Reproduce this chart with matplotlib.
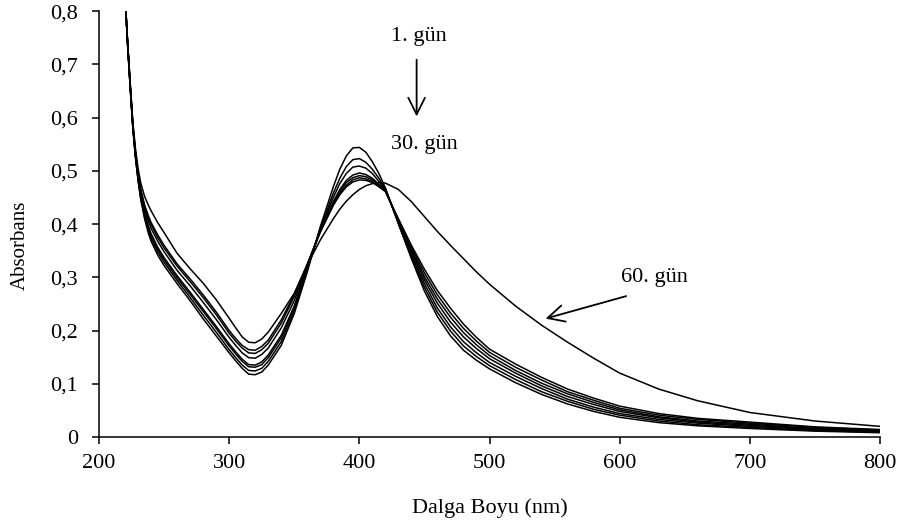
import numpy as np
import matplotlib.pyplot as plt
from matplotlib.ticker import FuncFormatter, MultipleLocator

plt.rcParams['font.family'] = ['Liberation Serif', 'DejaVu Serif']

# wavelength grid (nm)
wl = [220, 222, 224, 226, 228, 230, 232, 235, 238, 240, 245, 250, 260, 270, 280, 290, 300, 305, 310, 315,
      320, 325, 330, 340, 350, 360, 370, 380, 385, 390, 395, 400, 405, 410, 415,
      420, 430, 440, 450, 460, 470, 480, 490, 500, 520, 540, 560, 580, 600, 630,
      660, 700, 750, 800]

day_a = [0.83, 0.735, 0.655, 0.58, 0.525, 0.482, 0.447, 0.41, 0.382, 0.368, 0.342, 0.322,
         0.288, 0.256, 0.222, 0.19, 0.158, 0.143, 0.129, 0.118,
         0.117, 0.122, 0.135, 0.172, 0.232, 0.31, 0.395, 0.47, 0.503, 0.528, 0.543, 0.544, 0.535, 0.517, 0.495,
         0.468, 0.40, 0.335, 0.274, 0.226, 0.19, 0.163, 0.144, 0.128, 0.102, 0.08, 0.062, 0.048, 0.037, 0.027,
         0.021, 0.016, 0.011, 0.008]
day_b = [0.83, 0.736, 0.656, 0.581, 0.527, 0.484, 0.45, 0.414, 0.387, 0.373, 0.348, 0.328,
         0.294, 0.262, 0.229, 0.197, 0.164, 0.149, 0.135, 0.125,
         0.124, 0.129, 0.142, 0.179, 0.237, 0.315, 0.392, 0.458, 0.486, 0.508, 0.521, 0.523, 0.516, 0.503, 0.486,
         0.466, 0.402, 0.339, 0.281, 0.234, 0.199, 0.171, 0.151, 0.134, 0.108, 0.085, 0.067, 0.052, 0.041, 0.030,
         0.023, 0.018, 0.012, 0.009]
day_c = [0.83, 0.737, 0.657, 0.582, 0.528, 0.486, 0.453, 0.418, 0.392, 0.378, 0.353, 0.333,
         0.299, 0.268, 0.236, 0.204, 0.171, 0.156, 0.142, 0.132,
         0.131, 0.136, 0.149, 0.186, 0.243, 0.319, 0.389, 0.45, 0.476, 0.495, 0.507, 0.509, 0.505, 0.495, 0.48,
         0.465, 0.403, 0.343, 0.288, 0.242, 0.207, 0.179, 0.158, 0.14, 0.114, 0.091, 0.071, 0.056, 0.044, 0.033,
         0.026, 0.02, 0.014, 0.01]
day_d = [0.83, 0.737, 0.658, 0.583, 0.529, 0.487, 0.455, 0.421, 0.396, 0.382, 0.357, 0.337,
         0.303, 0.272, 0.24, 0.208, 0.175, 0.16, 0.146, 0.136,
         0.135, 0.141, 0.154, 0.191, 0.246, 0.322, 0.387, 0.442, 0.465, 0.482, 0.492, 0.496, 0.493, 0.486, 0.475,
         0.464, 0.405, 0.348, 0.295, 0.251, 0.216, 0.188, 0.166, 0.147, 0.12, 0.096, 0.076, 0.061, 0.048, 0.036,
         0.028, 0.022, 0.015, 0.011]
day_e = [0.83, 0.738, 0.659, 0.585, 0.532, 0.491, 0.46, 0.428, 0.405, 0.392, 0.368, 0.348,
         0.313, 0.284, 0.253, 0.221, 0.187, 0.172, 0.158, 0.149,
         0.148, 0.155, 0.167, 0.205, 0.256, 0.323, 0.386, 0.44, 0.461, 0.478, 0.487, 0.491, 0.489, 0.483, 0.473,
         0.463, 0.407, 0.352, 0.301, 0.259, 0.225, 0.196, 0.173, 0.153, 0.125, 0.101, 0.081, 0.065, 0.051, 0.038,
         0.03, 0.024, 0.016, 0.012]
day_f = [0.83, 0.739, 0.66, 0.586, 0.534, 0.494, 0.464, 0.433, 0.411, 0.399, 0.375, 0.355,
         0.321, 0.292, 0.262, 0.23, 0.195, 0.18, 0.167, 0.158,
         0.157, 0.164, 0.176, 0.214, 0.264, 0.324, 0.386, 0.437, 0.458, 0.473, 0.483, 0.487, 0.485, 0.48, 0.471,
         0.462, 0.408, 0.356, 0.308, 0.267, 0.233, 0.204, 0.18, 0.159, 0.131, 0.107, 0.085, 0.069, 0.054, 0.041,
         0.033, 0.026, 0.018, 0.013]
day_30 = [0.83, 0.74, 0.661, 0.587, 0.535, 0.496, 0.466, 0.436, 0.415, 0.403, 0.38, 0.36,
          0.325, 0.297, 0.267, 0.235, 0.2, 0.185, 0.172, 0.164,
          0.163, 0.17, 0.182, 0.22, 0.268, 0.325, 0.385, 0.435, 0.455, 0.47, 0.479, 0.483, 0.482, 0.478, 0.47,
          0.461, 0.41, 0.36, 0.315, 0.275, 0.242, 0.212, 0.187, 0.165, 0.137, 0.112, 0.09, 0.073, 0.058, 0.044,
          0.035, 0.028, 0.019, 0.014]
day_60 = [0.83, 0.742, 0.664, 0.592, 0.542, 0.505, 0.478, 0.452, 0.435, 0.425, 0.403, 0.384,
          0.345, 0.316, 0.289, 0.258, 0.223, 0.205, 0.188, 0.178,
          0.177, 0.184, 0.197, 0.232, 0.27, 0.323, 0.37, 0.41, 0.428, 0.443, 0.455, 0.465, 0.472, 0.476, 0.478,
          0.477, 0.465, 0.442, 0.414, 0.386, 0.36, 0.335, 0.31, 0.287, 0.246, 0.21, 0.178, 0.148, 0.12, 0.09,
          0.068, 0.046, 0.03, 0.02]

spectra = [day_a, day_b, day_c, day_d, day_e, day_f, day_30, day_60]

fig = plt.figure(figsize=(9.05, 5.30), dpi=100)
ax = fig.add_axes([0.1094, 0.1755, 0.8630, 0.8035])

for s in spectra:
    ax.plot(wl, s, color='black', lw=1.1)

ax.set_xlim(200, 800)
ax.set_ylim(0, 0.8)
ax.xaxis.set_major_locator(MultipleLocator(100))
ax.yaxis.set_major_locator(MultipleLocator(0.1))
ax.yaxis.set_major_formatter(FuncFormatter(lambda v, p: '0' if abs(v) < 1e-9 else f'{v:.1f}'.replace('.', ',')))

for side in ['top', 'right']:
    ax.spines[side].set_visible(False)
for side in ['left', 'bottom']:
    ax.spines[side].set_linewidth(1.1)
ax.tick_params(direction='out', length=5, width=1.1, labelsize=16)
ax.tick_params(axis='x', pad=7)
ax.tick_params(axis='y', pad=10)

ax.set_xlabel('Dalga Boyu (nm)', fontsize=16)
ax.set_ylabel('Absorbans', fontsize=15)
ax.xaxis.set_label_coords(0.5, -0.145)
ax.yaxis.set_label_coords(-0.088, 0.45)

arrow = dict(arrowstyle='->', color='black', lw=1.3, mutation_scale=30)
ax.text(446, 0.752, '1. gün', fontsize=16, ha='center', va='center')
ax.annotate('', xy=(444, 0.597), xytext=(444, 0.714), arrowprops=arrow)
ax.text(450, 0.549, '30. gün', fontsize=16, ha='center', va='center')
ax.text(627, 0.30, '60. gün', fontsize=16, ha='center', va='center')
ax.annotate('', xy=(541, 0.221), xytext=(607, 0.266), arrowprops=arrow)

fig.savefig('out.png', dpi=100)
